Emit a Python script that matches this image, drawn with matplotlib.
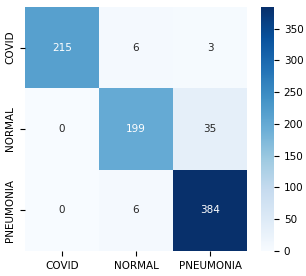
import numpy as np
import matplotlib
matplotlib.use("Agg")
import matplotlib.pyplot as plt
import seaborn as sns

labels = ["COVID", "NORMAL", "PNEUMONIA"]
cm = np.array([[215, 6, 3],
               [0, 199, 35],
               [0, 6, 384]])

plt.rcParams["font.size"] = 7.5
fig = plt.figure(figsize=(3.06, 2.76), dpi=100)
ax = fig.add_axes([25 / 306, 25 / 276, 222 / 306, 244 / 276])
cax = fig.add_axes([261 / 306, 25 / 276, 13 / 306, 244 / 276])

sns.heatmap(cm, annot=True, fmt="d", cmap="Blues", ax=ax, cbar_ax=cax,
            xticklabels=labels, yticklabels=labels,
            annot_kws={"size": 7.5})
cax.set_yticks([0, 50, 100, 150, 200, 250, 300, 350])
cax.tick_params(labelsize=7.5)
ax.tick_params(labelsize=7.5)

fig.savefig("out.png", dpi=100)
